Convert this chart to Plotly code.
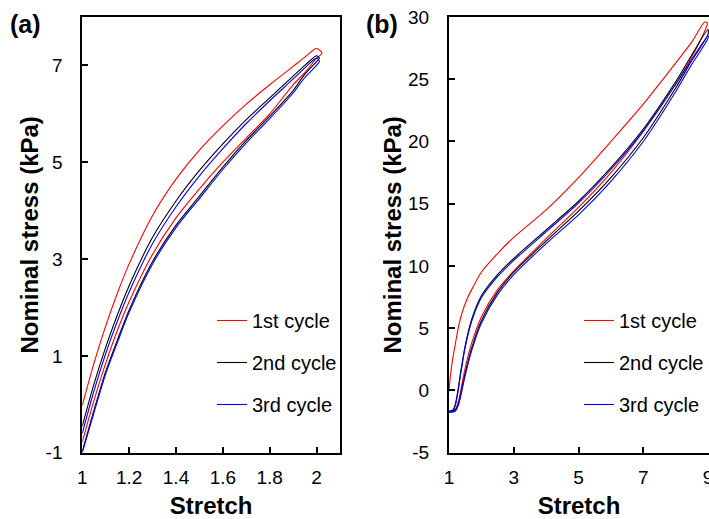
import plotly.graph_objects as go

# ---------------- Panel (a): stretch up to 2 ----------------
a_load_s = [1.0, 1.05, 1.1, 1.15, 1.2, 1.3, 1.4, 1.5, 1.6, 1.7, 1.8, 1.9, 1.95, 2.0]
a_unload_s = [2.0, 1.95, 1.9, 1.8, 1.7, 1.6, 1.5, 1.4, 1.3, 1.2, 1.15, 1.1, 1.05, 1.0]

a1_load = [-0.02, 0.85, 1.62, 2.3, 2.9, 3.9, 4.65, 5.25, 5.75, 6.2, 6.6, 6.98, 7.17, 7.35]
a1_tip = (2.023, 7.25)
a1_unload = [7.15, 6.85, 6.6, 6.0, 5.5, 5.0, 4.45, 3.85, 3.1, 2.12, 1.53, 0.85, 0.08, -0.78]

a2_load = [-0.45, 0.42, 1.18, 1.85, 2.45, 3.45, 4.2, 4.83, 5.38, 5.88, 6.33, 6.78, 7.0, 7.2]
a2_tip = (2.012, 7.15)
a2_unload = [7.08, 6.82, 6.48, 5.95, 5.45, 4.9, 4.3, 3.7, 2.95, 1.95, 1.33, 0.68, -0.12, -0.97]

a3_load = [-0.6, 0.28, 1.05, 1.72, 2.32, 3.32, 4.08, 4.72, 5.28, 5.8, 6.27, 6.72, 6.95, 7.15]
a3_tip = (2.012, 7.08)
a3_unload = [7.0, 6.75, 6.43, 5.9, 5.4, 4.85, 4.25, 3.65, 2.9, 1.9, 1.28, 0.63, -0.17, -1.0]

a_xtickvals = [1, 1.2, 1.4, 1.6, 1.8, 2]
a_xticktext = ["1", "1.2", "1.4", "1.6", "1.8", "2"]
a_ytickvals = [-1, 1, 3, 5, 7]
a_yticktext = ["-1", "1", "3", "5", "7"]

# ---------------- Panel (b): stretch up to 9 ----------------
b1_load_s = [1.0, 1.05, 1.1, 1.2, 1.3, 1.4, 1.55, 1.7, 2.0, 2.5, 3.0, 3.5, 4.0, 5.0, 6.0, 7.0, 8.0, 8.5, 8.9]
b1_load = [0.0, 1.3, 2.3, 3.8, 5.2, 6.2, 7.3, 8.1, 9.5, 11.0, 12.3, 13.4, 14.5, 17.1, 20.0, 23.0, 26.3, 28.0, 29.6]
b1_tip = (8.98, 29.5)
b1_unload_s = [8.95, 8.5, 8.0, 7.0, 6.0, 5.0, 4.0, 3.0, 2.5, 2.0, 1.7, 1.5, 1.4, 1.3, 1.2, 1.1, 1.0]
b1_unload = [29.2, 26.8, 24.6, 20.8, 17.5, 14.7, 12.2, 9.6, 8.1, 5.9, 3.8, 1.8, 0.5, -0.8, -1.5, -1.7, -1.7]

b_load_s = [1.0, 1.1, 1.15, 1.2, 1.25, 1.3, 1.35, 1.4, 1.5, 1.7, 2.0, 2.5, 3.0, 4.0, 5.0, 6.0, 7.0, 8.0, 9.0]
b_unload_s = [9.0, 8.5, 8.0, 7.0, 6.0, 5.0, 4.0, 3.0, 2.5, 2.0, 1.7, 1.5, 1.4, 1.35, 1.3, 1.25, 1.2, 1.1, 1.0]

b2_load = [-1.65, -1.6, -1.45, -1.05, -0.4, 0.4, 1.3, 2.1, 3.6, 5.7, 7.6, 9.3, 10.6, 12.9, 15.2, 17.9, 21.0, 24.8, 29.0]
b2_unload = [28.6, 26.5, 24.3, 20.3, 17.1, 14.4, 12.0, 9.5, 7.9, 5.6, 3.4, 1.4, 0.2, -0.45, -1.0, -1.35, -1.55, -1.7, -1.7]

b3_load = [-1.7, -1.65, -1.5, -1.15, -0.55, 0.25, 1.15, 1.95, 3.45, 5.55, 7.45, 9.15, 10.45, 12.75, 15.05, 17.75, 20.85, 24.6, 28.5]
b3_unload = [28.3, 26.2, 24.0, 20.0, 16.8, 14.1, 11.8, 9.3, 7.7, 5.4, 3.2, 1.2, 0.0, -0.6, -1.1, -1.45, -1.65, -1.75, -1.75]

b_xtickvals = [1, 3, 5, 7, 9]
b_xticktext = ["1", "3", "5", "7", "9"]
b_ytickvals = [-5, 0, 5, 10, 15, 20, 25, 30]
b_yticktext = ["-5", "0", "5", "10", "15", "20", "25", "30"]

names = ["1st cycle", "2nd cycle", "3rd cycle"]
colors = ["#ff0000", "#000000", "#0000ff"]

FONT = "Liberation Sans, Arial, sans-serif"

fig = go.Figure()

a_cycles = [(a1_load, a1_tip, a1_unload), (a2_load, a2_tip, a2_unload), (a3_load, a3_tip, a3_unload)]
for i, (ld, tip, ul) in enumerate(a_cycles):
    xs = a_load_s + [tip[0]] + a_unload_s
    ys = ld + [tip[1]] + ul
    fig.add_trace(go.Scatter(x=xs, y=ys, mode="lines", name=names[i],
                             line=dict(color=colors[i], width=1.1, shape="spline", smoothing=0.8),
                             legendgroup="a%d" % i, legend="legend",
                             xaxis="x", yaxis="y"))

b_cycles = [
    (b1_load_s, b1_load, b1_tip, b1_unload_s, b1_unload),
    (b_load_s, b2_load, None, b_unload_s, b2_unload),
    (b_load_s, b3_load, None, b_unload_s, b3_unload),
]
for i, (ls, ld, tip, us, ul) in enumerate(b_cycles):
    xs = list(ls) + ([tip[0]] if tip else []) + list(us)
    ys = list(ld) + ([tip[1]] if tip else []) + list(ul)
    fig.add_trace(go.Scatter(x=xs, y=ys, mode="lines", name=names[i],
                             line=dict(color=colors[i], width=1.1, shape="spline", smoothing=0.8),
                             legendgroup="b%d" % i, legend="legend2",
                             xaxis="x2", yaxis="y2"))

W, H = 709, 519
ydom = [(H - 452.7) / H, (H - 17) / H]

axis_common = dict(showline=True, linecolor="black", linewidth=2, ticks="inside",
                   ticklen=6, tickwidth=1.5, tickcolor="black", showgrid=False,
                   zeroline=False, tickfont=dict(family=FONT, size=19, color="black"),
                   tickmode="array", automargin=False)
title_font = dict(family=FONT, size=24, color="black")

fig.update_layout(
    template="none",
    width=W, height=H, margin=dict(l=0, r=0, t=0, b=0, pad=0),
    paper_bgcolor="white", plot_bgcolor="white",
    font=dict(family=FONT, color="black"),
    xaxis=dict(domain=[82.3 / W, 340 / W], range=[1, 2.1], anchor="y", mirror=True,
               tickvals=a_xtickvals, ticktext=a_xticktext, ticklabelstandoff=6,
               title=dict(text="<b>Stretch</b>", font=title_font, standoff=13), **axis_common),
    yaxis=dict(domain=ydom, range=[-1, 8], anchor="x", mirror=True,
               tickvals=a_ytickvals, ticktext=a_yticktext, ticklabelstandoff=14,
               title=dict(text="<b>Nominal stress (kPa)</b>", font=title_font, standoff=0), **axis_common),
    xaxis2=dict(domain=[449 / W, 1.0], range=[1, 9.03], anchor="y2", mirror=True,
                tickvals=b_xtickvals, ticktext=b_xticktext, ticklabelstandoff=6,
                ticklabeloverflow="allow",
                title=dict(text="<b>Stretch</b>", font=title_font, standoff=13), **axis_common),
    yaxis2=dict(domain=ydom, range=[-5, 30], anchor="x2", mirror=False,
                tickvals=b_ytickvals, ticktext=b_yticktext, ticklabelstandoff=14,
                title=dict(text="<b>Nominal stress (kPa)</b>", font=title_font, standoff=0), **axis_common),
    showlegend=True,
    legend=dict(x=212 / W, y=(H - 301) / H, xanchor="left", yanchor="top",
                bgcolor="rgba(0,0,0,0)", font=dict(family=FONT, size=20, color="black"),
                tracegroupgap=13, itemwidth=30),
    legend2=dict(x=579 / W, y=(H - 301) / H, xanchor="left", yanchor="top",
                 bgcolor="rgba(0,0,0,0)", font=dict(family=FONT, size=20, color="black"),
                 tracegroupgap=13, itemwidth=30),
    annotations=[
        dict(text="<b>(a)</b>", x=8 / W, y=(H - 8) / H, xref="paper", yref="paper",
             xanchor="left", yanchor="top", showarrow=False,
             font=dict(family=FONT, size=25, color="black")),
        dict(text="<b>(b)</b>", x=364 / W, y=(H - 8) / H, xref="paper", yref="paper",
             xanchor="left", yanchor="top", showarrow=False,
             font=dict(family=FONT, size=25, color="black")),
    ],
)

fig.write_html("out.html")
